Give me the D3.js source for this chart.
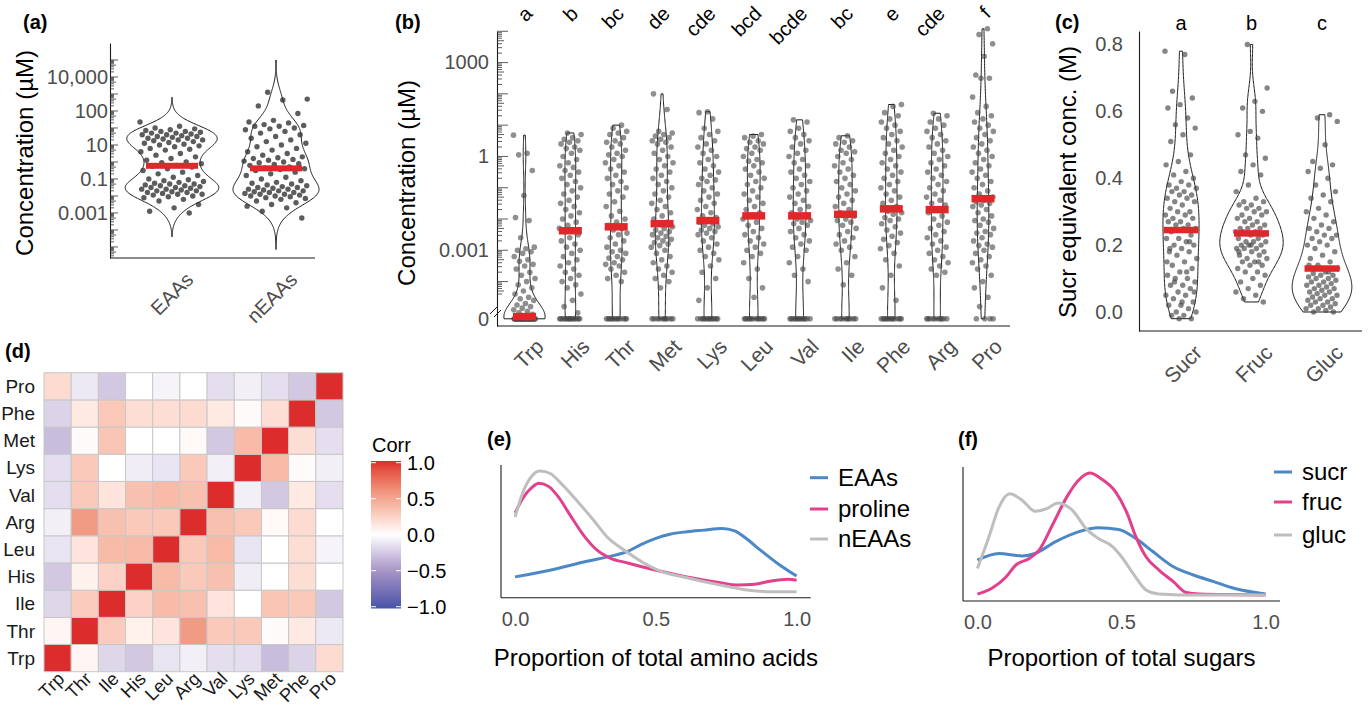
<!DOCTYPE html>
<html>
<head>
<meta charset="utf-8">
<script src="https://cdn.jsdelivr.net/npm/d3@7"></script>
<style>
  body { margin: 0; background: #fff; }
  text { font-family: "Liberation Sans", Arial, Helvetica, sans-serif; }
</style>
</head>
<body>
<svg id="fig" width="1368" height="706"></svg>
<script>
// ---------------- data ----------------
// (a) log10 concentration (axis units), per species
var groupsA = ["EAAs", "nEAAs"];
var eaasVals = [1.35,1.1,1.0,0.95,0.9,0.85,0.8,0.8,0.75,0.7,0.7,0.65,0.6,0.6,0.55,0.5,0.5,0.45,0.4,0.4,0.35,0.3,0.3,0.25,0.2,0.15,0.1,0.05,0.0,-0.05,-0.1,-0.2,-0.25,-0.3,-0.4,-0.5,-0.6,
  -0.7,-0.8,-0.9,-1.0,-1.05,-1.1,-1.2,-1.25,-1.3,-1.4,-1.5,-1.6,-1.7,-1.8,-1.9,-2.0,
  -2.05,-2.1,-2.15,-2.2,-2.25,-2.3,-2.3,-2.35,-2.4,-2.4,-2.45,-2.5,-2.5,-2.55,-2.6,-2.6,-2.65,-2.7,-2.7,-2.75,-2.8,-2.8,-2.85,-2.9,-2.9,-2.95,-3.0,-3.05,-3.1,-3.2,
  -3.3,-3.5,-3.7,-3.9,-4.0];
var neaasVals = [3.1,2.7,2.65,2.3,1.85,
  1.45,1.35,1.3,1.2,1.15,1.1,1.1,1.0,0.95,0.9,0.8,0.7,0.6,0.5,0.4,0.3,0.2,0.1,0.0,-0.1,-0.2,-0.3,-0.4,-0.5,
  -0.6,-0.7,-0.75,-0.8,-0.85,-0.9,-0.95,-1.0,-1.05,-1.1,-1.15,-1.2,-1.3,-1.35,-1.4,-1.45,-1.5,-1.6,-1.7,-1.8,-1.9,-2.0,
  -2.1,-2.2,-2.25,-2.3,-2.35,-2.4,-2.45,-2.5,-2.5,-2.55,-2.6,-2.6,-2.65,-2.7,-2.7,-2.75,-2.8,-2.8,-2.85,-2.9,-2.9,-2.95,-3.0,-3.0,-3.05,-3.1,-3.15,-3.2,-3.3,-3.4,-3.5,-3.6,
  -3.7,-3.9,-4.3];
var violinRangeA = [[-5.4, 2.8], [-6.15, 5.0]];
var tickPosA = [4, 2, 0, -2, -4];
var tickLabA = ["10,000", "100", "10", "0.1", "0.001"];

// (b) log10 µM per amino acid (non-zero samples) + number of zero samples
var aminoNames = ["Trp","His","Thr","Met","Lys","Leu","Val","Ile","Phe","Arg","Pro"];
var aminoLetters = ["a","b","bc","de","cde","bcd","bcde","bc","e","cde","f"];
var trpVals = [0.68,0.1,0.05,-0.45,-1.25,-1.95,-2.05,-2.6,-2.9,-2.95,-3.0,-3.05,-3.1,-3.2,-3.3,-3.35,-3.45,-3.5,-3.6,-3.7,-3.8,-3.9,-4.0,-4.1,-4.2,-4.3,-4.4,-4.5,-4.55,-4.6,-4.7,-4.75,-4.8,-4.85,-4.9,-4.95,-5.0,-5.05];
var hisVals = [0.75,0.7,0.6,0.55,0.5,0.45,0.4,0.3,0.25,0.2,0.1,0.0,-0.1,-0.2,-0.3,-0.35,-0.45,-0.5,-0.6,-0.7,-0.8,-0.9,-1.0,-1.1,-1.2,-1.3,-1.4,-1.5,-1.6,-1.7,-1.8,-1.9,-2.0,-2.1,-2.2,-2.3,-2.35,-2.4,-2.5,-2.6,-2.7,-2.8,-2.9,-3.0,-3.1,-3.2,-3.3,-3.4,-3.5,-3.6,-3.7,-3.8,-3.9,-4.0,-4.1,-4.2,-4.4,-4.6,-4.8,-5.0];
var thrVals = [1.0,0.9,0.8,0.75,0.7,0.6,0.5,0.45,0.4,0.3,0.2,0.1,0.05,0.0,-0.1,-0.2,-0.3,-0.4,-0.5,-0.6,-0.7,-0.8,-0.9,-1.0,-1.1,-1.2,-1.3,-1.45,-1.6,-1.75,-1.9,-2.0,-2.1,-2.2,-2.3,-2.35,-2.45,-2.5,-2.6,-2.7,-2.8,-2.9,-3.0,-3.05,-3.1,-3.2,-3.25,-3.3,-3.4,-3.45,-3.5,-3.6,-3.7,-3.8,-3.9,-4.0];
var metVals = [2.0,1.5,0.8,0.75,0.7,0.65,0.6,0.55,0.5,0.45,0.4,0.3,0.2,0.1,0.0,-0.1,-0.2,-0.3,-0.4,-0.5,-0.6,-0.7,-0.8,-0.9,-1.0,-1.1,-1.2,-1.3,-1.4,-1.5,-1.6,-1.7,-1.8,-1.9,-2.0,-2.1,-2.15,-2.25,-2.3,-2.35,-2.4,-2.45,-2.5,-2.55,-2.6,-2.65,-2.7,-2.75,-2.8,-2.85,-2.9,-3.0,-3.1,-3.2,-3.3,-3.4,-3.5,-3.6,-3.7,-3.8,-3.9,-4.0,-4.2];
var lysVals = [1.43,1.4,1.2,0.9,0.8,0.7,0.6,0.5,0.4,0.3,0.2,0.1,0.0,-0.1,-0.2,-0.3,-0.4,-0.5,-0.6,-0.7,-0.75,-0.8,-0.9,-1.0,-1.1,-1.2,-1.3,-1.4,-1.5,-1.6,-1.7,-1.8,-1.9,-1.95,-2.05,-2.1,-2.15,-2.2,-2.25,-2.3,-2.35,-2.4,-2.45,-2.5,-2.6,-2.7,-2.8,-2.9,-3.0,-3.1,-3.2,-3.3,-3.5,-3.7,-3.9,-4.2,-4.6];
var leuVals = [0.7,0.65,0.6,0.5,0.45,0.4,0.3,0.25,0.2,0.1,0.0,-0.1,-0.15,-0.2,-0.3,-0.4,-0.5,-0.6,-0.7,-0.8,-0.9,-1.0,-1.1,-1.2,-1.3,-1.4,-1.5,-1.6,-1.7,-1.8,-1.9,-2.0,-2.1,-2.2,-2.3,-2.4,-2.5,-2.6,-2.7,-2.8,-2.9,-3.0,-3.1,-3.2,-3.4,-3.6,-3.9,-4.2,-4.5];
var valVals = [1.17,1.1,0.9,0.8,0.7,0.6,0.5,0.4,0.3,0.2,0.1,0.0,-0.1,-0.2,-0.3,-0.4,-0.5,-0.6,-0.7,-0.8,-0.9,-1.0,-1.1,-1.2,-1.3,-1.4,-1.5,-1.6,-1.7,-1.8,-1.9,-2.0,-2.05,-2.1,-2.15,-2.2,-2.3,-2.4,-2.5,-2.6,-2.7,-2.8,-2.9,-3.0,-3.2,-3.4,-3.6,-3.8,-4.0];
var ileVals = [0.66,0.6,0.5,0.45,0.4,0.3,0.2,0.15,0.1,0.0,-0.1,-0.2,-0.3,-0.4,-0.5,-0.6,-0.7,-0.8,-0.9,-1.0,-1.1,-1.2,-1.3,-1.4,-1.5,-1.6,-1.7,-1.8,-1.9,-2.0,-2.05,-2.1,-2.2,-2.3,-2.4,-2.5,-2.6,-2.7,-2.8,-2.9,-3.0,-3.2,-3.4,-3.6,-3.8,-4.1];
var pheVals = [1.66,1.6,1.4,1.3,1.2,1.1,1.0,0.9,0.8,0.7,0.6,0.5,0.4,0.3,0.2,0.1,0.0,-0.1,-0.2,-0.3,-0.4,-0.5,-0.6,-0.7,-0.8,-0.9,-1.0,-1.1,-1.2,-1.3,-1.4,-1.5,-1.6,-1.75,-1.8,-1.85,-1.95,-2.0,-2.05,-2.15,-2.25,-2.35,-2.45,-2.55,-2.65,-2.75,-2.85,-2.95,-3.1,-3.3,-3.5,-3.8,-4.2,-4.6];
var argVals = [1.38,1.3,1.2,1.1,1.0,0.9,0.8,0.7,0.6,0.5,0.4,0.3,0.2,0.1,0.0,-0.1,-0.2,-0.3,-0.4,-0.5,-0.6,-0.7,-0.8,-0.9,-1.0,-1.1,-1.2,-1.3,-1.4,-1.5,-1.55,-1.7,-1.8,-1.9,-2.0,-2.1,-2.2,-2.3,-2.4,-2.5,-2.6,-2.7,-2.8,-2.9,-3.0,-3.1,-3.2,-3.3,-3.4,-3.5,-3.6,-3.7,-3.8];
var proVals = [4.08,3.9,3.6,3.2,2.6,2.5,2.5,1.9,1.6,1.4,1.3,1.2,1.1,1.0,0.9,0.8,0.7,0.6,0.5,0.4,0.3,0.2,0.1,0.0,-0.1,-0.2,-0.3,-0.4,-0.5,-0.6,-0.7,-0.8,-0.9,-1.0,-1.1,-1.2,-1.3,-1.4,-1.45,-1.5,-1.55,-1.6,-1.7,-1.8,-1.9,-2.0,-2.05,-2.1,-2.2,-2.3,-2.4,-2.45,-2.5,-2.6,-2.7,-2.8,-2.85,-2.9,-3.0,-3.1,-3.2,-3.3,-3.4,-3.5,-3.6,-3.8,-4.0,-4.2,-4.5,-4.8];
var zeroCounts = [38, 14, 12, 10, 12, 12, 12, 10, 12, 10, 4];
var tickPosB = [3, 0, -3];
var tickLabB = ["1000", "1", "0.001"];

// (c) sucrose-equivalent concentration (M)
var sugarNames = ["Sucr", "Fruc", "Gluc"];
var sugarLetters = ["a", "b", "c"];
var sucrVals = [0.78,0.77,0.66,0.64,0.62,0.61,0.58,0.56,0.55,0.53,0.51,0.47,0.45,0.44,0.42,0.41,0.40,0.39,0.38,0.38,0.37,0.37,0.36,0.36,0.35,0.35,0.34,0.34,0.33,0.33,0.32,0.31,0.30,0.30,0.29,0.29,0.28,0.28,0.27,0.27,0.26,0.26,0.25,0.25,0.24,
  0.23,0.22,0.22,0.21,0.2,0.2,0.19,0.18,0.18,0.17,0.16,0.15,0.14,0.13,0.12,0.11,0.10,0.10,0.09,0.08,0.08,0.07,0.06,0.05,0.05,0.04,0.03,0.02,0.02,0.01,0.0,0.0,-0.01,-0.01,-0.02,-0.02,0.15,0.12,0.09,0.06,0.03,0.19,0.21];
var frucVals = [0.80,0.67,0.63,0.61,0.6,0.54,0.53,0.52,0.47,0.46,0.44,0.42,0.41,0.38,0.36,0.34,0.33,0.33,0.32,0.32,0.31,0.31,0.3,0.3,0.29,0.29,0.28,0.28,0.27,0.27,0.26,0.26,0.25,0.25,0.25,0.24,0.24,0.24,0.23,0.23,
  0.22,0.22,0.21,0.21,0.21,0.2,0.2,0.2,0.19,0.19,0.19,0.18,0.18,0.17,0.17,0.16,0.16,0.15,0.15,0.14,0.14,0.13,0.12,0.12,0.11,0.1,0.09,0.08,0.07,0.06,0.05,0.04,0.03,0.2,0.18,0.15];
var glucVals = [0.59,0.58,0.57,0.5,0.45,0.44,0.43,0.42,0.4,0.38,0.36,0.35,0.34,0.33,0.31,0.3,0.29,0.28,0.27,0.26,0.25,0.25,0.24,0.23,0.23,0.22,0.22,0.21,0.2,0.2,0.19,0.18,0.17,0.16,0.15,0.14,0.13,0.12,
  0.115,0.11,0.11,0.105,0.1,0.1,0.095,0.09,0.09,0.085,0.08,0.08,0.075,0.07,0.07,0.065,0.06,0.06,0.055,0.05,0.05,0.045,0.04,0.04,0.035,0.03,0.03,0.025,0.02,0.02,0.015,0.01,0.01,0.005,0.0,0.0,0.13,0.14,0.12];
var tickPosC = [0, 0.2, 0.4, 0.6, 0.8];

// (d) correlation matrix, rows/cols in corrOrder
var corrOrder = ["Trp","Thr","Ile","His","Leu","Arg","Val","Lys","Met","Phe","Pro"];
var corrMatrix = [
  [ 1.00, 0.05,-0.18,-0.25,-0.12,-0.07,-0.15,-0.15,-0.30,-0.20, 0.20],
  [ 0.05, 1.00, 0.28, 0.08, 0.15, 0.55, 0.30, 0.30, 0.02, 0.12,-0.10],
  [-0.18, 0.28, 1.00, 0.25, 0.38, 0.35, 0.15, 0.00, 0.32, 0.30,-0.25],
  [-0.25, 0.08, 0.25, 1.00, 0.38, 0.30, 0.35,-0.08, 0.00, 0.18, 0.00],
  [-0.12, 0.15, 0.38, 0.38, 1.00, 0.30, 0.38,-0.12, 0.00, 0.18,-0.05],
  [-0.07, 0.55, 0.35, 0.30, 0.30, 1.00, 0.35, 0.30, 0.03, 0.20, 0.00],
  [-0.15, 0.30, 0.15, 0.35, 0.38, 0.35, 1.00,-0.07,-0.25, 0.12,-0.15],
  [-0.15, 0.30, 0.00,-0.08,-0.12, 0.30,-0.07, 1.00, 0.38, 0.02,-0.07],
  [-0.30, 0.02, 0.32, 0.00, 0.00, 0.03,-0.25, 0.38, 1.00, 0.18,-0.15],
  [-0.20, 0.12, 0.30, 0.18, 0.18, 0.20, 0.12, 0.02, 0.18, 1.00,-0.25],
  [ 0.20,-0.10,-0.25, 0.00,-0.05, 0.00,-0.15,-0.07,-0.15,-0.25, 1.00]
];
var corrBreaks = [1, 0.5, 0, -0.5, -1];

// (e) densities vs proportion of total amino acids
var eNames = ["EAAs", "proline", "nEAAs"];
var eaasDensity = [[0,.38],[.136,.56],[.255,.76],[.338,.88],[.4,1.0],[.445,1.16],[.5,1.32],[.55,1.42],[.61,1.48],[.67,1.52],[.735,1.56],[.78,1.5],[.82,1.32],[.87,1.04],[.93,.72],[1,.4]];
var prolineDensity = [[0,1.94],[.03,2.32],[.06,2.56],[.085,2.66],[.12,2.58],[.155,2.32],[.196,1.88],[.243,1.4],[.29,1.04],[.338,.84],[.4,.72],[.49,.56],[.61,.38],[.73,.24],[.79,.18],[.85,.2],[.91,.28],[.97,.32],[1,.3]];
var neaasDensity = [[0,1.84],[.03,2.48],[.06,2.84],[.089,2.96],[.125,2.9],[.166,2.64],[.219,2.24],[.279,1.76],[.326,1.36],[.386,1.04],[.457,.72],[.516,.52],[.61,.36],[.73,.18],[.824,.06],[.907,.02],[1,.02]];

// (f) densities vs proportion of total sugars
var fNames = ["sucr", "fruc", "gluc"];
var sucrDensity = [[0,.84],[.075,1.0],[.156,.94],[.2,1.0],[.27,1.28],[.35,1.52],[.42,1.62],[.49,1.58],[.55,1.36],[.61,1.04],[.68,.68],[.75,.48],[.82,.32],[.89,.16],[1,.02]];
var frucDensity = [[0,.02],[.05,.16],[.1,.44],[.133,.72],[.18,.88],[.214,1.08],[.26,1.68],[.31,2.36],[.35,2.76],[.39,2.94],[.43,2.8],[.48,2.48],[.52,1.96],[.55,1.4],[.585,.92],[.63,.6],[.68,.32],[.724,.06],[.77,.02],[1,0]];
var glucDensity = [[0,.64],[.04,1.4],[.075,2.12],[.112,2.44],[.156,2.28],[.2,2.02],[.24,2.08],[.28,2.22],[.33,2.04],[.377,1.6],[.42,1.36],[.47,1.16],[.5,.92],[.54,.52],[.585,.12],[.63,.02],[.7,0],[1,0]];
var propTicks = [0, 0.5, 1];

// ---------------- helpers ----------------
var FONT = '"Liberation Sans", Arial, Helvetica, sans-serif';
var grey = "#4d4d4d";
var ink = "#1a1a1a";
var red = "#e0282a";
var svg = d3.select("#fig");

function label(x, y, s, size, opt) {
    opt = opt || {};
    var t = svg.append("text").attr("x", x).attr("y", y).text(s)
        .attr("font-size", size).attr("fill", opt.fill || "#000")
        .attr("text-anchor", opt.anchor || "start");
    if (opt.weight) t.attr("font-weight", opt.weight);
    if (opt.dy) t.attr("dy", opt.dy);
    if (opt.rotate != null) t.attr("transform", "rotate(" + opt.rotate + "," + x + "," + y + ")");
    return t;
}
function hline(x1, x2, y) {
    svg.append("line").attr("x1", x1).attr("x2", x2).attr("y1", y).attr("y2", y)
        .attr("stroke", ink).attr("stroke-width", 1.1);
}
function styleAxis(g, size, color) {
    g.attr("font-family", FONT).attr("font-size", size);
    g.selectAll("text").attr("fill", color);
    g.select(".domain").attr("stroke", ink).attr("stroke-width", 1.1);
}
// bandwidth like R's bw.nrd0
function nrd0(v) {
    var s = v.slice().sort(d3.ascending);
    var sd = d3.deviation(s);
    var iqr = (d3.quantileSorted(s, 0.75) - d3.quantileSorted(s, 0.25)) / 1.34;
    var lo = Math.min(sd, iqr) || sd;
    return 0.9 * lo * Math.pow(s.length, -0.2);
}
function kde(v, lo, hi) {
    var bw = nrd0(v), n = 200;
    return d3.range(n).map(function (i) {
        var y = lo + (hi - lo) * i / (n - 1);
        var d = d3.sum(v, function (x) { return Math.exp(-0.5 * Math.pow((y - x) / bw, 2)); });
        return [y, d / (v.length * bw * Math.sqrt(2 * Math.PI))];
    });
}
// violins scaled by area (common max), jittered points, median bars
function drawViolins(groups, xs, ys, maxHalf, o) {
    var dens = groups.map(function (g) { return kde(g.vals, g.lo, g.hi); });
    var dmax = d3.max(dens, function (d) { return d3.max(d, function (p) { return p[1]; }); });
    var w = d3.scaleLinear().domain([0, dmax]).range([0, maxHalf]);
    groups.forEach(function (g, i) {
        var cx = xs(g.name);
        var pts = dens[i].map(function (p) { return [cx + w(p[1]), ys(p[0])]; })
            .concat(dens[i].slice().reverse().map(function (p) { return [cx - w(p[1]), ys(p[0])]; }));
        svg.append("path").attr("d", d3.line()(pts) + "Z")
            .attr("fill", "none").attr("stroke", ink).attr("stroke-width", 1);
    });
    groups.forEach(function (g, i) {
        var cx = xs(g.name);
        svg.append("g").selectAll("circle").data(g.vals).join("circle")
            .attr("cx", function (v, k) { return cx + o.jitter * (2 * ((k * 0.6180339887 + i * 0.37) % 1) - 1); })
            .attr("cy", function (v) { return ys(v); })
            .attr("r", o.r).attr("fill", o.fill).attr("fill-opacity", o.alpha);
    });
    groups.forEach(function (g) {
        var cx = xs(g.name), m = d3.median(g.vals);
        svg.append("rect").attr("x", cx - o.barW / 2).attr("y", ys(m) - o.barH / 2)
            .attr("width", o.barW).attr("height", o.barH).attr("fill", red);
    });
}
function logTicks(x0, ys, pLo, pHi, lens) {
    for (var e = -8; e <= 6; e++) {
        for (var k = 1; k <= 9; k++) {
            var p = e + Math.log10(k);
            if (p < pLo || p > pHi) continue;
            var len = k === 1 ? lens[0] : (k === 5 ? lens[1] : lens[2]);
            svg.append("line").attr("x1", x0).attr("x2", x0 + len)
                .attr("y1", ys(p)).attr("y2", ys(p))
                .attr("stroke", "#333").attr("stroke-width", 0.8);
        }
    }
}
function rotatedXLabels(xs, y, size, dx, dy) {
    var g = svg.append("g").attr("transform", "translate(0," + y + ")")
        .call(d3.axisBottom(xs).tickSize(0));
    g.select(".domain").remove();
    g.attr("font-family", FONT).attr("font-size", size);
    g.selectAll("text").attr("fill", grey).attr("y", 0).attr("dy", 0)
        .attr("transform", "translate(" + dx + "," + dy + ") rotate(-45)")
        .style("text-anchor", "end");
}

// ---------------- (a) ----------------
var xA = d3.scalePoint().domain(groupsA).range([172, 276]);
var yA = d3.scaleLinear().domain([-6.65, 6]).range([258, 43]);
svg.append("g").attr("transform", "translate(110,0)")
    .call(d3.axisLeft(yA).tickValues(tickPosA).tickFormat(function (d, i) { return tickLabA[i]; }).tickSize(0).tickPadding(2))
    .call(styleAxis, 20, grey);
hline(110, 315, 258);
logTicks(110, yA, -6.6, 5.0, [8, 6, 4]);
drawViolins([
    { name: "EAAs", vals: eaasVals, lo: violinRangeA[0][0], hi: violinRangeA[0][1] },
    { name: "nEAAs", vals: neaasVals, lo: violinRangeA[1][0], hi: violinRangeA[1][1] }
], xA, yA, 46.8, { jitter: 32, r: 2.7, fill: "#333", alpha: 0.8, barW: 52, barH: 6 });
rotatedXLabels(xA, 258, 20, 22, 23);
label(25, 153, "Concentration (µM)", 24, { anchor: "middle", rotate: -90, dy: "0.35em" });
label(23, 29, "(a)", 20, { weight: "bold" });

// ---------------- (b) ----------------
var ZERO_POS = -5.19; // axis position of the zero samples, below the break
var aminoVals = [trpVals, hisVals, thrVals, metVals, lysVals, leuVals, valVals, ileVals, pheVals, argVals, proVals];
var xB = d3.scalePoint().domain(aminoNames).range([524.5, 983]);
var yB = d3.scaleLinear().domain([-5.42, 4.0]).range([326, 31.3]);
svg.append("g").attr("transform", "translate(497,0)")
    .call(d3.axisLeft(yB).tickValues(tickPosB.concat([ZERO_POS]))
        .tickFormat(function (d, i) { return i < tickLabB.length ? tickLabB[i] : "0"; })
        .tickSize(0).tickPadding(8))
    .call(styleAxis, 20, grey);
hline(497, 1010, 326);
logTicks(497, yB, -4.4, 4.0, [11, 7, 5]);
// axis break marks
svg.append("path").attr("d", "M490,314L497,307M494,317L501,310")
    .attr("stroke", ink).attr("stroke-width", 1).attr("fill", "none");
drawViolins(aminoNames.map(function (n, i) {
    var v = aminoVals[i].concat(d3.range(zeroCounts[i]).map(function () { return ZERO_POS; }));
    return { name: n, vals: v, lo: d3.min(v), hi: d3.max(v) };
}), xB, yB, 20.6, { jitter: 11, r: 2.8, fill: "#444", alpha: 0.6, barW: 23, barH: 7.5 });
rotatedXLabels(xB, 326, 21, 20, 22);
aminoNames.forEach(function (n, i) {
    label(xB(n) + 9, 15, aminoLetters[i], 20, { anchor: "end", rotate: -45 });
});
label(407, 183, "Concentration (µM)", 24, { anchor: "middle", rotate: -90, dy: "0.35em" });
label(395, 29, "(b)", 20, { weight: "bold" });

// ---------------- (c) ----------------
var sugarVals = [sucrVals, frucVals, glucVals];
var xC = d3.scalePoint().domain(sugarNames).range([1181, 1322]);
var yC = d3.scaleLinear().domain([-0.0568, 0.8403]).range([331, 31]);
svg.append("g").attr("transform", "translate(1139,0)")
    .call(d3.axisLeft(yC).tickValues(tickPosC).tickFormat(d3.format(".1f")).tickSize(0).tickPadding(16))
    .call(styleAxis, 20, grey);
hline(1139, 1362, 331);
drawViolins(sugarNames.map(function (n, i) {
    return { name: n, vals: sugarVals[i], lo: d3.min(sugarVals[i]), hi: d3.max(sugarVals[i]) };
}), xC, yC, 31.7, { jitter: 16, r: 2.7, fill: "#444", alpha: 0.65, barW: 35, barH: 6.5 });
rotatedXLabels(xC, 331, 21, 22, 23);
sugarNames.forEach(function (n, i) {
    label(xC(n), 30, sugarLetters[i], 20, { anchor: "middle" });
});
label(1068, 182, "Sucr equivalent conc. (M)", 24, { anchor: "middle", rotate: -90, dy: "0.35em" });
label(1055, 29, "(c)", 20, { weight: "bold" });

// ---------------- (d) ----------------
var corrColor = d3.scaleLinear().domain([-1, -0.5, 0, 0.5, 1])
    .range(["#4654a7", "#a593c6", "#ffffff", "#f2a58e", "#dd2c2c"])
    .interpolate(d3.interpolateLab);
var xH = d3.scaleBand().domain(corrOrder).range([44, 343]);
var yH = d3.scaleBand().domain(corrOrder.slice().reverse()).range([372.7, 671.7]);
var cells = [];
corrOrder.forEach(function (r, i) {
    corrOrder.forEach(function (c, j) { cells.push({ r: r, c: c, v: corrMatrix[i][j] }); });
});
svg.append("g").selectAll("rect").data(cells).join("rect")
    .attr("x", function (d) { return xH(d.c); }).attr("y", function (d) { return yH(d.r); })
    .attr("width", xH.bandwidth()).attr("height", yH.bandwidth())
    .attr("fill", function (d) { return corrColor(d.v); })
    .attr("stroke", "#c8c8c8").attr("stroke-width", 1);
corrOrder.forEach(function (n) {
    label(35, yH(n) + yH.bandwidth() / 2, n, 19, { anchor: "end", fill: "#1a1a1a", dy: "0.35em" });
    label(xH(n) + xH.bandwidth() / 2 + 8, 680, n, 18.5, { anchor: "end", fill: "#1a1a1a", rotate: -45 });
});
// colour bar
var cbY = d3.scaleLinear().domain([-1, 1]).range([606.7, 462.7]);
var grad = svg.append("defs").append("linearGradient").attr("id", "corrGrad")
    .attr("x1", 0).attr("y1", 1).attr("x2", 0).attr("y2", 0);
d3.range(0, 21).forEach(function (i) {
    var v = -1 + i * 0.1;
    grad.append("stop").attr("offset", (i / 20)).attr("stop-color", corrColor(v));
});
svg.append("rect").attr("x", 371).attr("y", 461).attr("width", 30).attr("height", 147.5)
    .attr("fill", "url(#corrGrad)");
corrBreaks.forEach(function (b) {
    var y = cbY(b);
    svg.append("line").attr("x1", 371).attr("x2", 376).attr("y1", y).attr("y2", y).attr("stroke", "#fff").attr("stroke-width", 1);
    svg.append("line").attr("x1", 396).attr("x2", 401).attr("y1", y).attr("y2", y).attr("stroke", "#fff").attr("stroke-width", 1);
    label(407, y, d3.format(".1f")(b).replace("-", "\u2212"), 20, { dy: "0.35em" });
});
label(372, 452, "Corr", 20);
label(5, 358, "(d)", 20, { weight: "bold" });

// ---------------- (e) & (f) ----------------
var lineColors = ["#4c87c6", "#e2408c", "#bebebe"];
function densityPanel(series, names, x0, x1, yTop, yBot, title, legX, legY, tag, tagX) {
    var xs = d3.scaleLinear().domain([-0.05, 1.05]).range([x0, x1]);
    var all = [];
    series.forEach(function (s) { s.forEach(function (p) { all.push(p[1]); }); });
    var ext = d3.extent(all), pad = (ext[1] - ext[0]) * 0.05;
    var ys = d3.scaleLinear().domain([ext[0] - pad, ext[1] + pad]).range([yBot, yTop]);
    var line = d3.line().x(function (p) { return xs(p[0]); }).y(function (p) { return ys(p[1]); })
        .curve(d3.curveMonotoneX);
    series.forEach(function (s, i) {
        svg.append("path").attr("d", line(s)).attr("fill", "none")
            .attr("stroke", lineColors[i]).attr("stroke-width", 3);
    });
    svg.append("line").attr("x1", x0).attr("x2", x0).attr("y1", yTop).attr("y2", yBot)
        .attr("stroke", ink).attr("stroke-width", 1.1);
    var g = svg.append("g").attr("transform", "translate(0," + yBot + ")")
        .call(d3.axisBottom(xs).tickValues(propTicks).tickFormat(d3.format(".1f")).tickSize(0).tickPadding(14))
        .call(styleAxis, 20, grey);
    g.select(".domain").attr("d", "M" + x0 + ",0H" + x1);
    label((x0 + x1) / 2, 666, title, 24, { anchor: "middle" });
    names.forEach(function (n, i) {
        var y = legY[i];
        svg.append("line").attr("x1", legX).attr("x2", legX + 18).attr("y1", y).attr("y2", y)
            .attr("stroke", lineColors[i]).attr("stroke-width", 3);
        label(legX + 28, y, n, 24, { dy: "0.35em" });
    });
    label(tagX, 446, tag, 20, { weight: "bold" });
}
densityPanel([eaasDensity, prolineDensity, neaasDensity], eNames, 501, 810.7, 465, 597.7,
    "Proportion of total amino acids", 810, [477.7, 509, 539], "(e)", 487);
densityPanel([sucrDensity, frucDensity, glucDensity], fNames, 963, 1280, 467, 601,
    "Proportion of total sugars", 1274, [472, 502, 535], "(f)", 958);
</script>
</body>
</html>
